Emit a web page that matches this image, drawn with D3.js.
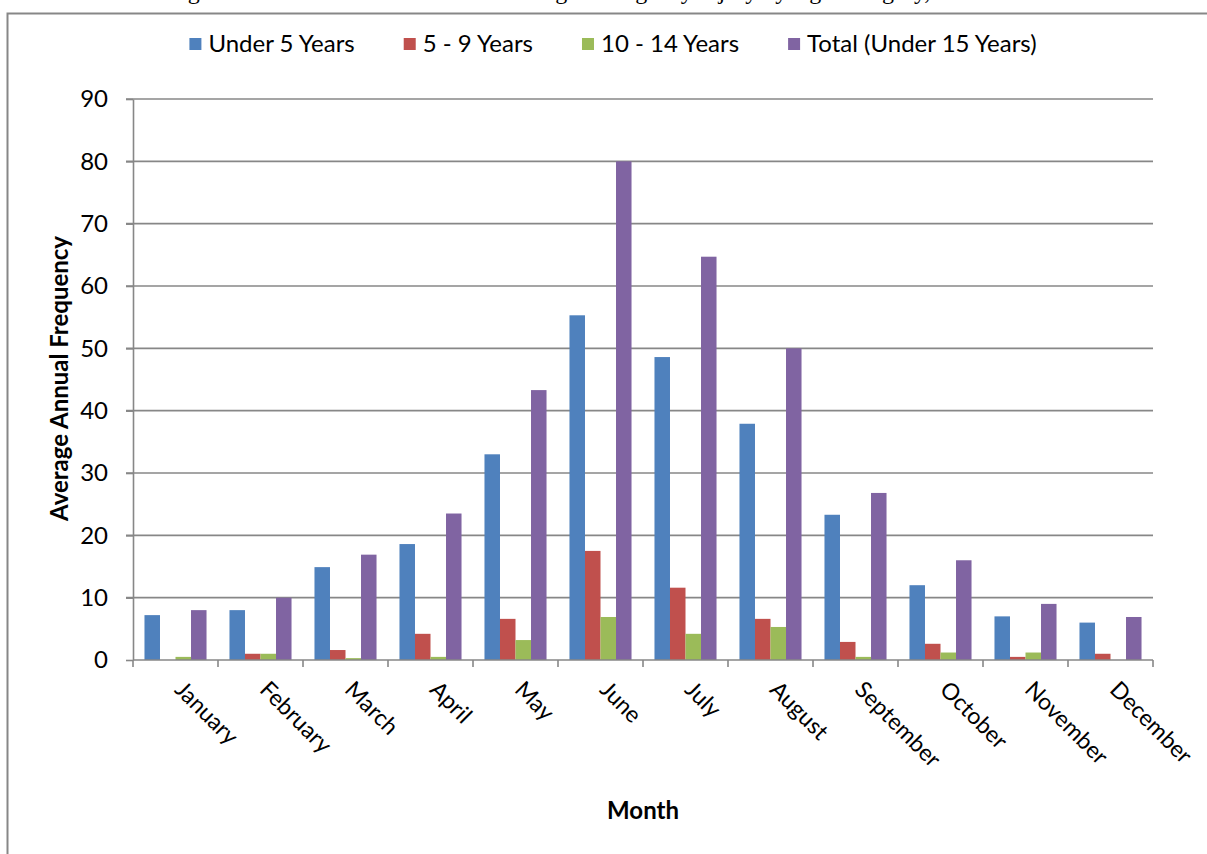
<!DOCTYPE html>
<html>
<head>
<meta charset="utf-8">
<script src="https://cdn.jsdelivr.net/npm/d3@7"></script>
<style>
  html, body { margin: 0; padding: 0; background: #fff; overflow: hidden; }
  svg { display: block; }
  .grid line { stroke: #878787; stroke-width: 1.6; }
  .axis path, .axis line { stroke: #878787; stroke-width: 1.6; }
  .axis text { font-family: Lato, "Open Sans", sans-serif; fill: #000; }
</style>
</head>
<body>
<div id="chart"></div>
<script>
// month categories
var months = ["January", "February", "March", "April", "May", "June",
              "July", "August", "September", "October", "November", "December"];

// series names (legend)
var seriesNames = ["Under 5 Years", "5 - 9 Years", "10 - 14 Years", "Total (Under 15 Years)"];

// average annual frequency, one value per month
var under5  = [7.2, 8.0, 14.9, 18.6, 33.0, 55.3, 48.6, 37.9, 23.3, 12.0, 7.0, 6.0];
var age5to9 = [0.0, 1.0, 1.6, 4.2, 6.6, 17.5, 11.6, 6.6, 2.9, 2.6, 0.5, 1.0];
var age10to14 = [0.5, 1.0, 0.3, 0.5, 3.2, 6.9, 4.2, 5.3, 0.5, 1.2, 1.2, 0.0];
var total = [8.0, 10.0, 16.9, 23.5, 43.3, 80.0, 64.7, 50.0, 26.8, 16.0, 9.0, 6.9];

var yTicks = [0, 10, 20, 30, 40, 50, 60, 70, 80, 90];
var colors = ["#4F81BD", "#C0504D", "#9BBB59", "#8064A2"];

function init() {
    var w = 1207, h = 854;
    var left = 133, right = 1153, top = 99, bottom = 660;

    var seriesValues = [under5, age5to9, age10to14, total];

    var svg = d3.select("#chart").append("svg")
        .attr("width", w)
        .attr("height", h);

    // outer frame (cut off at right and bottom)
    svg.append("rect")
        .attr("x", 7.5).attr("y", 13.5)
        .attr("width", w + 20).attr("height", h + 20)
        .attr("fill", "none")
        .attr("stroke", "#878787")
        .attr("stroke-width", 2);

    // title, mostly cropped above the picture
    svg.append("text")
        .attr("x", 604).attr("y", -1)
        .attr("text-anchor", "middle")
        .style("font-family", "'Liberation Serif', serif")
        .style("font-size", "24px")
        .text("Figure 3. Seasonal Distribution of Average Emergency Injury by Age Category, 2000-2009");

    var xScale = d3.scaleBand()
        .domain(months)
        .range([left, right])
        .paddingInner(0.27)
        .paddingOuter(0.135);

    var xInner = d3.scaleBand()
        .domain(seriesNames)
        .range([0, xScale.bandwidth()]);

    var yScale = d3.scaleLinear()
        .domain([0, 90])
        .range([bottom, top]);

    // gridlines (extend left as tick marks)
    svg.append("g")
        .attr("class", "grid")
        .selectAll("line")
        .data(yTicks.filter(function (d) { return d > 0; }))
        .enter().append("line")
        .attr("x1", left - 7).attr("x2", right)
        .attr("y1", function (d) { return yScale(d); })
        .attr("y2", function (d) { return yScale(d); });

    // bars
    var groups = svg.append("g").selectAll("g")
        .data(months)
        .enter().append("g")
        .attr("transform", function (d) { return "translate(" + xScale(d) + ",0)"; });

    groups.selectAll("rect")
        .data(function (m, i) {
            return seriesNames.map(function (s, k) {
                return { series: s, k: k, value: seriesValues[k][i] };
            });
        })
        .enter().append("rect")
        .attr("x", function (d) { return xInner(d.series); })
        .attr("width", xInner.bandwidth())
        .attr("y", function (d) { return yScale(d.value); })
        .attr("height", function (d) { return yScale(0) - yScale(d.value); })
        .attr("fill", function (d) { return colors[d.k]; });

    // y axis
    var yAxis = d3.axisLeft(yScale)
        .tickValues(yTicks)
        .tickSize(7)
        .tickPadding(18)
        .tickSizeOuter(0);

    svg.append("g")
        .attr("class", "axis")
        .attr("transform", "translate(" + left + ",0)")
        .call(yAxis)
        .selectAll("text")
        .style("font-size", "24px");

    // x axis: line and boundary ticks
    var xAxisG = svg.append("g").attr("class", "axis");
    xAxisG.append("line")
        .attr("x1", left).attr("x2", right)
        .attr("y1", bottom).attr("y2", bottom);

    var boundaries = months.map(function (m) { return xScale(m) - xScale.step() * xScale.paddingInner() / 2; });
    boundaries.push(right);
    xAxisG.selectAll("line.tick")
        .data(boundaries)
        .enter().append("line")
        .attr("class", "tick")
        .attr("x1", function (d) { return d; })
        .attr("x2", function (d) { return d; })
        .attr("y1", bottom).attr("y2", bottom + 7);

    // rotated month labels
    xAxisG.selectAll("text.month")
        .data(months)
        .enter().append("text")
        .attr("class", "month")
        .attr("transform", function (d) {
            var cx = xScale(d) + xScale.bandwidth() / 2;
            return "translate(" + (cx - 2) + "," + (bottom + 31) + ") rotate(45)";
        })
        .attr("text-anchor", "start")
        .style("font-size", "23px")
        .text(function (d) { return d; });

    // axis titles
    svg.append("text")
        .attr("transform", "translate(68," + ((top + bottom) / 2 - 1) + ") rotate(-90)")
        .attr("text-anchor", "middle")
        .style("font-family", "Lato, sans-serif")
        .style("font-weight", "bold")
        .style("font-size", "24px")
        .text("Average Annual Frequency");

    svg.append("text")
        .attr("x", (left + right) / 2)
        .attr("y", 819)
        .attr("text-anchor", "middle")
        .style("font-family", "Lato, sans-serif")
        .style("font-weight", "bold")
        .style("font-size", "24px")
        .text("Month");

    // legend, laid out from measured text widths and centred
    var legend = svg.append("g");
    var items = legend.selectAll("g")
        .data(seriesNames)
        .enter().append("g");

    items.append("rect")
        .attr("width", 12).attr("height", 12)
        .attr("y", 38)
        .attr("fill", function (d, i) { return colors[i]; });

    items.append("text")
        .attr("x", 19)
        .attr("y", 52)
        .style("font-family", "Lato, sans-serif")
        .style("font-size", "24px")
        .text(function (d) { return d; });

    var xPos = 0, gap = 49, offsets = [];
    items.each(function () {
        offsets.push(xPos);
        xPos += 19 + d3.select(this).select("text").node().getComputedTextLength() + gap;
    });
    var legendWidth = xPos - gap;
    var startX = 613 - legendWidth / 2;
    items.attr("transform", function (d, i) { return "translate(" + (startX + offsets[i]) + ",0)"; });
}

window.onload = init;
</script>
</body>
</html>
